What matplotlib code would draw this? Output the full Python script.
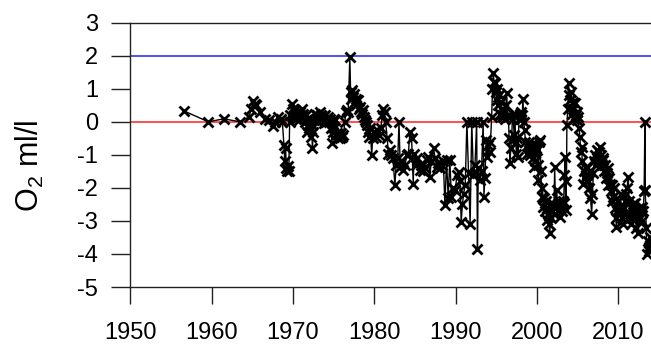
import matplotlib
matplotlib.use('Agg')
import matplotlib.pyplot as plt

plt.rc('font', family='Liberation Sans')
plt.rcParams['mathtext.default'] = 'regular'
plt.rcParams['axes.unicode_minus'] = False  # plain hyphen minus like the original

# O2 anomaly series (year, ml/l)
years = [
    1956.6, 1959.6, 1961.5, 1963.5, 1964.6, 1964.9, 1965.1, 1965.3, 1965.5, 1966.0,
    1966.6, 1967.0, 1967.5, 1967.8, 1968.2, 1968.5, 1968.7,
    1968.9, 1969.0, 1969.1, 1969.2, 1969.3, 1969.4, 1969.5, 1969.6, 1969.7, 1969.85,
    1970.0, 1970.1, 1970.25, 1970.4, 1970.5, 1970.7, 1970.8, 1970.9, 1971.1, 1971.2,
    1971.3, 1971.5, 1971.6, 1971.7, 1971.8, 1971.9, 1972.0, 1972.1, 1972.2, 1972.3,
    1972.4, 1972.5, 1972.6, 1972.7, 1972.8, 1973.0, 1973.1, 1973.3, 1973.4, 1973.5,
    1973.7, 1973.8, 1974.0, 1974.1, 1974.3, 1974.5, 1974.6, 1974.7, 1974.8, 1974.9,
    1975.0, 1975.1, 1975.2, 1975.4, 1975.5, 1975.6, 1975.8, 1975.9, 1976.1, 1976.2,
    1976.4, 1976.5, 1976.6, 1976.8, 1977.0, 1977.1, 1977.2, 1977.3, 1977.4, 1977.5,
    1977.6, 1977.7, 1977.8, 1978.0, 1978.1, 1978.25, 1978.4, 1978.5, 1978.6, 1978.7,
    1978.9, 1979.0, 1979.1,
    1979.2, 1979.4, 1979.5, 1979.7, 1979.8, 1980.0, 1980.2, 1980.4, 1980.6, 1980.8,
    1981.0, 1981.1, 1981.3, 1981.4, 1981.6, 1981.75, 1981.9, 1982.1, 1982.3, 1982.55,
    1982.7, 1982.9, 1983.05, 1983.2, 1983.4, 1983.6, 1983.8, 1984.0, 1984.2, 1984.4,
    1984.6, 1984.8, 1984.9, 1985.1, 1985.3, 1985.6, 1985.8, 1986.0, 1986.2, 1986.5,
    1986.65, 1986.85, 1987.0, 1987.3, 1987.5, 1987.7, 1987.9, 1988.1, 1988.3, 1988.5,
    1988.7, 1988.9, 1989.1, 1989.3, 1989.5, 1989.7, 1989.95, 1990.2, 1990.4, 1990.55,
    1990.7, 1990.85, 1991.0, 1991.2, 1991.4, 1991.6, 1991.8, 1992.0, 1992.2, 1992.4,
    1992.6, 1992.7, 1992.8, 1993.0, 1993.2, 1993.4, 1993.5, 1993.6, 1993.8, 1993.9,
    1994.0, 1994.2, 1994.3, 1994.45,
    1994.55, 1994.65, 1994.75, 1994.85, 1994.95, 1995.05, 1995.15, 1995.25, 1995.35, 1995.5,
    1995.6, 1995.7, 1995.8, 1995.9, 1996.0, 1996.1, 1996.2, 1996.3, 1996.4, 1996.5,
    1996.6, 1996.7, 1996.8, 1996.9, 1997.0, 1997.1, 1997.2, 1997.3, 1997.4, 1997.5,
    1997.6, 1997.7, 1997.8, 1997.9, 1998.0, 1998.1, 1998.2, 1998.3, 1998.4, 1998.5,
    1998.6, 1998.75, 1998.9, 1999.0, 1999.1, 1999.2, 1999.3, 1999.4, 1999.5, 1999.6,
    1999.7, 1999.8, 1999.9, 2000.0, 2000.1, 2000.2, 2000.3, 2000.4, 2000.5, 2000.6,
    2000.7, 2000.8, 2000.9, 2001.0, 2001.1, 2001.2, 2001.3, 2001.4, 2001.5, 2001.6,
    2001.7, 2001.8, 2001.9, 2002.0, 2002.1, 2002.2, 2002.3, 2002.45, 2002.55, 2002.7,
    2002.85, 2003.0, 2003.1, 2003.2, 2003.3, 2003.4, 2003.5, 2003.55, 2003.65, 2003.7,
    2003.8, 2003.9, 2004.0, 2004.1, 2004.2, 2004.3, 2004.4, 2004.5, 2004.6, 2004.7,
    2004.8, 2004.9, 2005.0, 2005.1, 2005.2, 2005.3, 2005.4, 2005.5, 2005.6, 2005.7,
    2005.8, 2005.9, 2006.0, 2006.1, 2006.2, 2006.3, 2006.4, 2006.5, 2006.6, 2006.75,
    2006.85, 2006.95, 2007.05, 2007.15, 2007.25, 2007.4, 2007.5, 2007.6, 2007.7, 2007.8,
    2007.9, 2008.0, 2008.1, 2008.2, 2008.3, 2008.4, 2008.5, 2008.6, 2008.7, 2008.8,
    2008.9, 2009.0, 2009.1, 2009.2, 2009.3, 2009.4, 2009.5, 2009.6, 2009.7, 2009.8,
    2009.9, 2010.0, 2010.1, 2010.2, 2010.3, 2010.4, 2010.5, 2010.6, 2010.7, 2010.8,
    2010.9, 2011.0, 2011.1, 2011.25, 2011.35, 2011.45, 2011.55, 2011.65, 2011.75, 2011.85,
    2011.95, 2012.05, 2012.15, 2012.25, 2012.35, 2012.5, 2012.6, 2012.7, 2012.8, 2012.9,
    2013.0, 2013.1, 2013.2, 2013.3, 2013.35, 2013.45, 2013.55, 2013.65, 2013.75, 2013.85,
    2013.95,
]
o2 = [
    0.33, 0.00, 0.09, 0.00, 0.15, 0.40, 0.62, 0.55, 0.50, 0.30,
    0.10, 0.05, -0.12, 0.00, 0.15, 0.10, 0.00,
    -0.70, -1.20, -0.80, -1.40, -1.50, -1.35, -1.48, 0.00, 0.20, 0.55,
    0.40, 0.20, 0.35, 0.10, 0.25, 0.20, 0.05, 0.30, 0.38, 0.15,
    0.25, 0.00, 0.20, -0.30, -0.10, 0.10, -0.20, 0.05, -0.45, -0.10,
    -0.80, -0.30, 0.05, 0.25, 0.10, 0.20, 0.00, 0.30, 0.10, 0.20,
    0.15, -0.05, 0.20, 0.05, 0.15, 0.00, 0.10, -0.20, -0.65, -0.30,
    0.10, -0.20, 0.05, -0.35, -0.50, -0.40, -0.50, -0.35, -0.45, -0.40,
    0.00, 0.30, 0.35, 0.30, 1.95, 0.90, 0.70, 0.95, 0.75, 0.85,
    0.60, 0.70, 0.50, 0.65, 0.40, 0.45, 0.30, 0.25, 0.35, 0.15,
    0.05, 0.00, -0.10,
    -0.30, -0.45, -0.20, -1.00, -0.50, -0.30, -0.45, -0.25, -0.40, -0.20,
    0.20, 0.40, 0.30, 0.00, -0.50, -0.96, -0.85, -1.00, -1.10, -1.92,
    -1.30, -1.10, 0.00, -1.36, -1.20, -1.46, -1.30, -1.00, -0.96, -0.30,
    -0.50, -1.87, -0.96, -1.30, -1.10, -1.46, -1.30, -1.50, -1.40, -1.15,
    -1.06, -1.67, -1.20, -0.80, -1.10, -1.36, -1.25, -1.40, -1.31, -1.20,
    -2.52, -1.16, -2.30, -1.16, -2.27, -2.00, -2.07, -1.60, -1.51, -1.80,
    -3.03, -2.50, -2.17, -1.90, 0.00, -1.56, -3.10, 0.00, -1.60, -1.30,
    0.00, -3.84, -1.40, -1.77, -1.50, 0.00, -2.27, -1.70, -0.55, -1.06,
    -0.70, -0.90, -0.60, 0.15,
    1.00, 1.47, 1.20, 1.16, 0.90, 0.66, 1.00, 0.50, 0.80, 0.25,
    0.60, 0.20, 0.40, 0.15, 0.30, 0.10, 0.50, 0.86, 0.20, 0.15,
    -0.50, -1.26, -0.80, -0.55, 0.10, 0.25, -0.40, 0.20, -0.60, -0.96,
    -0.50, -1.06, 0.10, 0.25, 0.10, 0.30, 0.20, 0.70, 0.00, -0.25,
    -0.60, -0.96, -0.70, -0.90, -0.60, -1.00, -0.70, -0.76, -1.10, -1.36,
    -0.90, -1.20, -0.80, -0.86, -1.30, -1.77, -0.60, -0.55, -1.50, -2.27,
    -2.00, -2.58, -2.30, -2.70, -2.40, -2.98, -2.60, -2.80, -3.10, -3.38,
    -2.90, -2.47, -2.70, -2.50, -2.80, -1.36, -2.60, -2.07, -2.50, -2.40,
    -2.88, -2.50, -2.70, -2.40, -2.47, -1.60, -1.06, -2.68, -1.80, -0.10,
    0.40, 1.16, 0.80, 0.66, 0.90, 0.25, 0.60, 0.40, 0.10, 0.56,
    0.20, 0.30, 0.05, 0.15, -0.20, -0.45, -0.90, -0.76, -1.20, -1.87,
    -1.50, -1.70, -1.40, -1.36, -1.60, -1.80, -2.00, -1.50, -2.30, -2.78,
    -2.20, -1.56, -1.20, -1.00, -1.30, -0.86, -1.10, -0.90, -1.20, -0.76,
    -1.00, -1.30, -1.10, -1.16, -1.50, -1.30, -1.70, -1.56, -1.40, -1.90,
    -1.70, -1.87, -2.10, -1.90, -2.40, -2.27, -2.00, -2.60, -2.90, -3.18,
    -2.70, -2.40, -2.80, -2.58, -2.20, -2.70, -2.90, -3.08, -2.60, -2.80,
    -2.40, -2.20, -2.00, -1.67, -2.40, -2.78, -3.10, -2.60, -2.90, -2.50,
    -2.70, -2.47, -2.90, -3.20, -2.70, -3.38, -2.60, -2.90, -2.70, -2.58,
    -3.00, -2.70, -2.10, 0.00, -2.07, -3.20, -3.99, -3.60, -3.90, -3.79,
    -3.50,
]

x_ticks = [1950, 1960, 1970, 1980, 1990, 2000, 2010]
y_ticks = [-5, -4, -3, -2, -1, 0, 1, 2, 3]
ref_upper = 2
ref_zero = 0

fig = plt.figure(figsize=(6.51, 3.44), dpi=100)
# axes right edge falls just outside the picture, like the original crop
ax = fig.add_axes([130.3 / 651, 1 - 287 / 344, (660 - 130.3) / 651, (287 - 22.7) / 344])

ax.axhline(ref_upper, color='#2020ee', lw=1.1, zorder=1)
ax.axhline(ref_zero, color='#ff2020', lw=1.1, zorder=1)
ax.plot(years, o2, color='black', lw=1.0, marker='x', ms=6.5, mew=2.0, zorder=3)

ax.set_xlim(1950, 1950 + (660 - 130.3) / 8.13)
ax.set_ylim(-5, 3)
ax.set_xticks(x_ticks)
ax.set_yticks(y_ticks)
ax.tick_params(axis='both', labelsize=17, width=1.0, color='#222222')
ax.tick_params(axis='y', length=14, pad=9)
ax.tick_params(axis='x', length=12, pad=13)
for sp in ax.spines.values():
    sp.set_linewidth(1.0)
    sp.set_color('#222222')

ax.set_ylabel('O$_2$ ml/l', fontsize=22)
ax.yaxis.set_label_coords(-0.16, 0.46)

plt.savefig('out.png', dpi=100)
